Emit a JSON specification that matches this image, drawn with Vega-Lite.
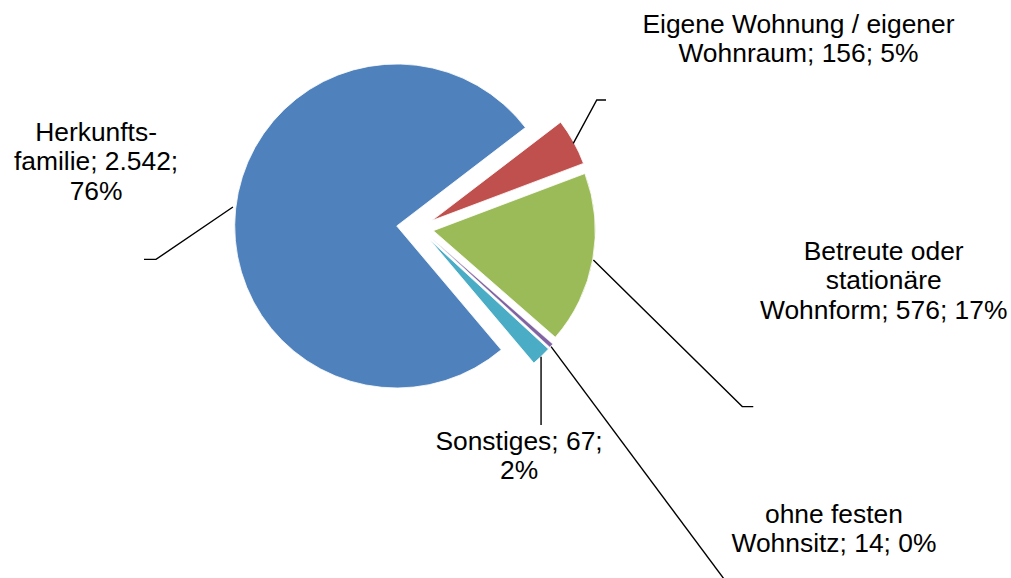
{
  "$schema": "https://vega.github.io/schema/vega-lite/v6.json",
  "width": 1011,
  "height": 578,
  "autosize": {"type": "fit", "contains": "padding"},
  "padding": 0,
  "background": "white",
  "config": {"view": {"stroke": null}},
  "datasets": {
    "slices": [
      {"category": "Eigene Wohnung / eigener Wohnraum", "n": 156, "ord": 1},
      {"category": "Betreute oder stationäre Wohnform", "n": 576, "ord": 2},
      {"category": "ohne festen Wohnsitz", "n": 14, "ord": 3},
      {"category": "Sonstiges", "n": 67, "ord": 4},
      {"category": "Herkunftsfamilie", "n": 2542, "ord": 5}
    ],
    "labels": [
      {"category": "Herkunftsfamilie", "text": "Herkunfts-\nfamilie; 2.542;\n76%", "x": -1.856, "y": 0.574},
      {"category": "Eigene Wohnung / eigener Wohnraum", "text": "Eigene Wohnung / eigener\nWohnraum; 156; 5%", "x": 2.48, "y": 1.241},
      {"category": "Betreute oder stationäre Wohnform", "text": "Betreute oder\nstationäre\nWohnform; 576; 17%", "x": 3.006, "y": -0.159},
      {"category": "ohne festen Wohnsitz", "text": "ohne festen\nWohnsitz; 14; 0%", "x": 2.699, "y": -1.784},
      {"category": "Sonstiges", "text": "Sonstiges; 67;\n2%", "x": 0.755, "y": -1.331}
    ],
    "leaders": [
      {"category": "Herkunftsfamilie", "i": 0, "x": -1.011, "y": 0.117},
      {"category": "Herkunftsfamilie", "i": 1, "x": -1.486, "y": -0.206},
      {"category": "Herkunftsfamilie", "i": 2, "x": -1.56, "y": -0.206},
      {"category": "Eigene Wohnung / eigener Wohnraum", "i": 0, "x": 1.09, "y": 0.51},
      {"category": "Eigene Wohnung / eigener Wohnraum", "i": 1, "x": 1.235, "y": 0.778},
      {"category": "Eigene Wohnung / eigener Wohnraum", "i": 2, "x": 1.292, "y": 0.778},
      {"category": "Betreute oder stationäre Wohnform", "i": 0, "x": 1.214, "y": -0.21},
      {"category": "Betreute oder stationäre Wohnform", "i": 1, "x": 2.133, "y": -1.115},
      {"category": "Betreute oder stationäre Wohnform", "i": 2, "x": 2.201, "y": -1.115},
      {"category": "Sonstiges", "i": 0, "x": 0.891, "y": -0.807},
      {"category": "Sonstiges", "i": 1, "x": 0.891, "y": -1.228},
      {"category": "ohne festen Wohnsitz", "i": 0, "x": 0.953, "y": -0.745},
      {"category": "ohne festen Wohnsitz", "i": 1, "x": 2.039, "y": -2.204}
    ]
  },
  "layer": [
    {
      "data": {"name": "slices"},
      "transform": [
        {"stack": "n", "groupby": [], "sort": [{"field": "ord", "order": "ascending"}], "as": ["s0", "s1"]},
        {"filter": "datum.ord == 5"}
      ],
      "mark": {"type": "arc", "outerRadius": 162, "stroke": "white", "strokeWidth": 0.8},
      "encoding": {
        "x": {"datum": 0, "type": "quantitative", "scale": {"domain": [-2.449, 3.792], "nice": false, "zero": false}, "axis": null},
        "y": {"datum": 0, "type": "quantitative", "scale": {"domain": [-2.173, 1.395], "nice": false, "zero": false}, "axis": null},
        "theta": {"field": "s0", "type": "quantitative", "scale": {"domain": [0, 3355], "range": [0.918, 7.201]}},
        "theta2": {"field": "s1"},
        "color": {"field": "category", "type": "nominal", "legend": null,
          "scale": {"domain": ["Herkunftsfamilie", "Eigene Wohnung / eigener Wohnraum", "Betreute oder stationäre Wohnform", "ohne festen Wohnsitz", "Sonstiges"],
                    "range": ["#4F81BD", "#C0504D", "#9BBB59", "#8064A2", "#4BACC6"]}}
      }
    },
    {
      "data": {"name": "slices"},
      "transform": [
        {"stack": "n", "groupby": [], "sort": [{"field": "ord", "order": "ascending"}], "as": ["s0", "s1"]},
        {"filter": "datum.ord == 1"}
      ],
      "mark": {"type": "arc", "outerRadius": 162, "xOffset": 35.2, "yOffset": -5.4, "stroke": "white", "strokeWidth": 0.8},
      "encoding": {
        "x": {"datum": 0, "type": "quantitative", "scale": {"domain": [-2.449, 3.792], "nice": false, "zero": false}, "axis": null},
        "y": {"datum": 0, "type": "quantitative", "scale": {"domain": [-2.173, 1.395], "nice": false, "zero": false}, "axis": null},
        "theta": {"field": "s0", "type": "quantitative", "scale": {"domain": [0, 3355], "range": [0.918, 7.201]}},
        "theta2": {"field": "s1"},
        "color": {"field": "category", "type": "nominal", "legend": null}
      }
    },
    {
      "data": {"name": "slices"},
      "transform": [
        {"stack": "n", "groupby": [], "sort": [{"field": "ord", "order": "ascending"}], "as": ["s0", "s1"]},
        {"filter": "datum.ord == 2"}
      ],
      "mark": {"type": "arc", "outerRadius": 162, "xOffset": 36.6, "yOffset": 4.7, "stroke": "white", "strokeWidth": 0.8},
      "encoding": {
        "x": {"datum": 0, "type": "quantitative", "scale": {"domain": [-2.449, 3.792], "nice": false, "zero": false}, "axis": null},
        "y": {"datum": 0, "type": "quantitative", "scale": {"domain": [-2.173, 1.395], "nice": false, "zero": false}, "axis": null},
        "theta": {"field": "s0", "type": "quantitative", "scale": {"domain": [0, 3355], "range": [0.918, 7.201]}},
        "theta2": {"field": "s1"},
        "color": {"field": "category", "type": "nominal", "legend": null}
      }
    },
    {
      "data": {"name": "slices"},
      "transform": [
        {"stack": "n", "groupby": [], "sort": [{"field": "ord", "order": "ascending"}], "as": ["s0", "s1"]},
        {"filter": "datum.ord == 4"}
      ],
      "mark": {"type": "arc", "outerRadius": 162, "xOffset": 32.6, "yOffset": 13.3, "stroke": "white", "strokeWidth": 0.8},
      "encoding": {
        "x": {"datum": 0, "type": "quantitative", "scale": {"domain": [-2.449, 3.792], "nice": false, "zero": false}, "axis": null},
        "y": {"datum": 0, "type": "quantitative", "scale": {"domain": [-2.173, 1.395], "nice": false, "zero": false}, "axis": null},
        "theta": {"field": "s0", "type": "quantitative", "scale": {"domain": [0, 3355], "range": [0.918, 7.201]}},
        "theta2": {"field": "s1"},
        "color": {"field": "category", "type": "nominal", "legend": null}
      }
    },
    {
      "data": {"name": "slices"},
      "transform": [
        {"stack": "n", "groupby": [], "sort": [{"field": "ord", "order": "ascending"}], "as": ["s0", "s1"]},
        {"filter": "datum.ord == 3"}
      ],
      "mark": {"type": "arc", "outerRadius": 162, "xOffset": 34, "yOffset": 11.5, "stroke": "white", "strokeWidth": 0.5},
      "encoding": {
        "x": {"datum": 0, "type": "quantitative", "scale": {"domain": [-2.449, 3.792], "nice": false, "zero": false}, "axis": null},
        "y": {"datum": 0, "type": "quantitative", "scale": {"domain": [-2.173, 1.395], "nice": false, "zero": false}, "axis": null},
        "theta": {"field": "s0", "type": "quantitative", "scale": {"domain": [0, 3355], "range": [0.918, 7.201]}},
        "theta2": {"field": "s1"},
        "color": {"field": "category", "type": "nominal", "legend": null}
      }
    },
    {
      "data": {"name": "leaders"},
      "mark": {"type": "line", "color": "black", "strokeWidth": 1.4, "clip": true},
      "encoding": {
        "x": {"field": "x", "type": "quantitative", "scale": {"domain": [-2.449, 3.792], "nice": false, "zero": false}, "axis": null},
        "y": {"field": "y", "type": "quantitative", "scale": {"domain": [-2.173, 1.395], "nice": false, "zero": false}, "axis": null},
        "detail": {"field": "category", "type": "nominal"},
        "order": {"field": "i", "type": "quantitative"}
      }
    },
    {
      "data": {"name": "labels"},
      "mark": {"type": "text", "font": "Liberation Sans", "fontSize": 26.4, "lineHeight": 29.5, "lineBreak": "\n", "align": "center", "baseline": "middle", "color": "black"},
      "encoding": {
        "x": {"field": "x", "type": "quantitative", "scale": {"domain": [-2.449, 3.792], "nice": false, "zero": false}, "axis": null},
        "y": {"field": "y", "type": "quantitative", "scale": {"domain": [-2.173, 1.395], "nice": false, "zero": false}, "axis": null},
        "text": {"field": "text", "type": "nominal"}
      }
    }
  ]
}
